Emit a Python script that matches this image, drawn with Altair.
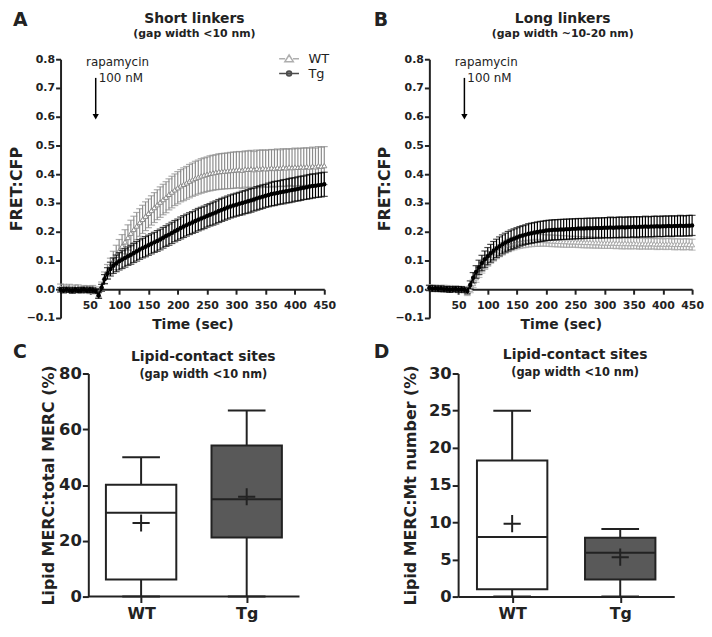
import altair as alt
import pandas as pd

FONT = "DejaVu Sans"
INK = "#222222"
STEP = 5  # seconds between samples

# ---------------- Panel A (short linkers) ----------------
A_WT = [0.006, 0.004, 0.001, 0.005, -0.001, 0.002, 0.003, -0.002, 0.001, 0.000, -0.002, 0.001, -0.004,
        -0.018,
        0.010, 0.040, 0.062, 0.080, 0.100, 0.118, 0.135, 0.150, 0.165, 0.180, 0.195, 0.208, 0.220, 0.232,
        0.243, 0.254, 0.264, 0.274, 0.284, 0.294, 0.303, 0.312, 0.320, 0.330, 0.338, 0.346, 0.353, 0.360,
        0.365, 0.370, 0.376, 0.381, 0.386, 0.390, 0.394, 0.397, 0.400, 0.403, 0.405, 0.407, 0.409, 0.410,
        0.411, 0.412, 0.413, 0.414, 0.415,
        0.416, 0.414, 0.418, 0.417, 0.419, 0.416, 0.420, 0.418, 0.421, 0.419, 0.420, 0.422, 0.420, 0.423,
        0.421, 0.424, 0.422, 0.425, 0.423, 0.425, 0.424, 0.426, 0.425, 0.427, 0.425, 0.428, 0.426, 0.430,
        0.428, 0.430]
A_WT_ERR = [0.012, 0.013, 0.011, 0.012, 0.012, 0.013, 0.012, 0.011, 0.012, 0.012, 0.013, 0.012, 0.012,
            0.012,
            0.015, 0.020, 0.024, 0.028, 0.032, 0.035, 0.038, 0.040, 0.042, 0.044, 0.045, 0.046, 0.047, 0.048,
            0.049, 0.050, 0.050,
            0.051, 0.052, 0.052, 0.053, 0.053, 0.054, 0.054, 0.055, 0.055, 0.056, 0.056, 0.057, 0.057, 0.058,
            0.058, 0.059, 0.059, 0.060, 0.060, 0.060, 0.061, 0.061, 0.061, 0.062, 0.062, 0.062, 0.062, 0.063,
            0.063, 0.063,
            0.063, 0.064, 0.063, 0.064, 0.064, 0.063, 0.064, 0.065, 0.064, 0.064, 0.065, 0.064, 0.065, 0.065,
            0.064, 0.065, 0.065, 0.064, 0.065, 0.066, 0.065, 0.065, 0.066, 0.065, 0.066, 0.066, 0.065, 0.066,
            0.066, 0.066]
A_TG = [-0.002, -0.004, -0.001, -0.003, -0.005, -0.002, -0.004, -0.003, -0.001, -0.004, -0.002, -0.003, -0.006,
        -0.022,
        0.005, 0.035, 0.055, 0.070, 0.082, 0.090, 0.097, 0.103, 0.109, 0.115, 0.120, 0.126, 0.132, 0.138,
        0.143, 0.148, 0.153, 0.158, 0.163, 0.168, 0.173, 0.179, 0.185, 0.190, 0.196, 0.202, 0.207, 0.213,
        0.218, 0.223, 0.228, 0.232, 0.237, 0.242, 0.246, 0.250, 0.255, 0.259, 0.263, 0.267, 0.272, 0.276,
        0.280, 0.284, 0.288, 0.291, 0.294,
        0.297, 0.300, 0.303, 0.306, 0.309, 0.312, 0.316, 0.319, 0.322, 0.325, 0.328, 0.331, 0.333, 0.335,
        0.337, 0.339, 0.341, 0.343, 0.345, 0.347, 0.349, 0.351, 0.353, 0.355, 0.357, 0.359, 0.360, 0.362,
        0.363, 0.365]
A_TG_ERR = [0.008, 0.009, 0.008, 0.008, 0.009, 0.008, 0.008, 0.009, 0.008, 0.008, 0.009, 0.008, 0.008,
            0.010,
            0.012, 0.016, 0.020, 0.024, 0.027, 0.029, 0.030, 0.031, 0.032, 0.032, 0.033, 0.033, 0.034, 0.034,
            0.034, 0.035, 0.035,
            0.035, 0.035, 0.036, 0.036, 0.036, 0.036, 0.037, 0.037, 0.037, 0.037, 0.038, 0.038, 0.038, 0.038,
            0.038, 0.039, 0.039, 0.039, 0.039, 0.039, 0.039, 0.040, 0.040, 0.040, 0.040, 0.040, 0.040, 0.040,
            0.040, 0.040,
            0.040, 0.041, 0.040, 0.041, 0.041, 0.040, 0.041, 0.041, 0.041, 0.040, 0.041, 0.041, 0.042, 0.041,
            0.041, 0.042, 0.041, 0.042, 0.042, 0.041, 0.042, 0.042, 0.041, 0.042, 0.042, 0.042, 0.041, 0.042,
            0.042, 0.042]

# ---------------- Panel B (long linkers) ----------------
B_WT = [0.006, 0.004, 0.005, 0.002, 0.003, 0.004, 0.001, 0.002, 0.000, 0.001, -0.001, 0.000, -0.003,
        -0.012,
        0.000, 0.020, 0.040, 0.058, 0.074, 0.088, 0.100, 0.110, 0.119, 0.127, 0.134, 0.141, 0.147, 0.152,
        0.156, 0.159, 0.162, 0.164, 0.166, 0.167, 0.168, 0.169, 0.170, 0.170, 0.170, 0.170, 0.169, 0.169,
        0.168, 0.168, 0.167, 0.167, 0.166, 0.166, 0.165, 0.165, 0.165, 0.164, 0.164, 0.163, 0.163, 0.163,
        0.162, 0.162, 0.162, 0.161, 0.161,
        0.161, 0.160, 0.161, 0.160, 0.160, 0.159, 0.160, 0.159, 0.159, 0.160, 0.159, 0.158, 0.159, 0.158,
        0.158, 0.159, 0.158, 0.157, 0.158, 0.157, 0.157, 0.158, 0.157, 0.156, 0.157, 0.156, 0.156, 0.157,
        0.156, 0.155]
B_WT_ERR = [0.010, 0.011, 0.010, 0.010, 0.011, 0.010, 0.010, 0.011, 0.010, 0.010, 0.011, 0.010, 0.010,
            0.010,
            0.012, 0.014, 0.016, 0.017, 0.018, 0.019, 0.020, 0.020, 0.021, 0.021, 0.021, 0.022, 0.022, 0.022,
            0.022, 0.022, 0.022,
            0.022, 0.022, 0.022, 0.021, 0.021, 0.021, 0.021, 0.021, 0.020, 0.020, 0.020, 0.020, 0.020, 0.020,
            0.020, 0.020, 0.020, 0.019, 0.019, 0.019, 0.019, 0.019, 0.019, 0.019, 0.019, 0.019, 0.019, 0.019,
            0.019, 0.019,
            0.019, 0.018, 0.019, 0.019, 0.018, 0.019, 0.019, 0.018, 0.019, 0.019, 0.018, 0.019, 0.019, 0.018,
            0.019, 0.019, 0.018, 0.019, 0.019, 0.018, 0.019, 0.019, 0.018, 0.019, 0.019, 0.018, 0.019, 0.019,
            0.018, 0.019]
B_TG = [0.004, 0.002, 0.003, 0.001, 0.002, 0.000, 0.001, -0.001, 0.000, 0.001, -0.001, 0.000, -0.002,
        -0.006,
        0.015, 0.040, 0.060, 0.076, 0.091, 0.104, 0.115, 0.125, 0.134, 0.142, 0.149, 0.156, 0.162, 0.167,
        0.172, 0.176, 0.180, 0.184, 0.187, 0.190, 0.193, 0.195, 0.197, 0.199, 0.201, 0.202, 0.204, 0.205,
        0.206, 0.207, 0.207, 0.208, 0.208, 0.209, 0.209, 0.210, 0.210, 0.211, 0.211, 0.211, 0.212, 0.212,
        0.212, 0.213, 0.213, 0.213, 0.214,
        0.214, 0.215, 0.214, 0.215, 0.215, 0.216, 0.215, 0.216, 0.216, 0.217, 0.216, 0.217, 0.217, 0.218,
        0.217, 0.218, 0.218, 0.219, 0.218, 0.219, 0.219, 0.220, 0.219, 0.220, 0.220, 0.221, 0.220, 0.221,
        0.221, 0.222]
B_TG_ERR = [0.009, 0.010, 0.009, 0.009, 0.010, 0.009, 0.009, 0.010, 0.009, 0.009, 0.010, 0.009, 0.009,
            0.010,
            0.014, 0.018, 0.022, 0.025, 0.027, 0.029, 0.030, 0.031, 0.032, 0.032, 0.033, 0.033, 0.033, 0.034,
            0.034, 0.034, 0.034,
            0.034, 0.034, 0.034, 0.035, 0.035, 0.035, 0.035, 0.035, 0.035, 0.035, 0.035, 0.035, 0.035, 0.035,
            0.035, 0.035, 0.035, 0.035, 0.035, 0.035, 0.035, 0.035, 0.035, 0.035, 0.035, 0.035, 0.035, 0.035,
            0.035, 0.035,
            0.035, 0.036, 0.035, 0.035, 0.036, 0.035, 0.035, 0.036, 0.035, 0.035, 0.036, 0.035, 0.035, 0.036,
            0.035, 0.035, 0.036, 0.035, 0.035, 0.036, 0.035, 0.035, 0.036, 0.035, 0.035, 0.036, 0.035, 0.035,
            0.036, 0.035]

X_TICKS = [50, 100, 150, 200, 250, 300, 350, 400, 450]
Y_TICKS_AB = [-0.1, 0.0, 0.1, 0.2, 0.3, 0.4, 0.5, 0.6, 0.7, 0.8]
RAPA_T = 60  # rapamycin addition (s)

# ---------------- Panels C, D (box plots) ----------------
GROUPS = ["WT", "Tg"]
C_MIN = [0.0, 0.0]
C_Q1 = [6.1, 21.2]
C_MED = [30.1, 34.9]
C_Q3 = [40.1, 54.2]
C_MAX = [50.0, 66.7]
C_MEAN = [26.4, 35.8]
C_TICKS = [0, 20, 40, 60, 80]

D_MIN = [0.0, 0.0]
D_Q1 = [1.0, 2.3]
D_MED = [8.0, 5.9]
D_Q3 = [18.3, 7.9]
D_MAX = [25.0, 9.1]
D_MEAN = [9.8, 5.3]
D_TICKS = [0, 5, 10, 15, 20, 25, 30]

WT_LEG_PATH = "M-2,0H-0.8M0.8,0H2M0,-0.75L0.85,0.6L-0.85,0.6Z"
TG_LEG_PATH = "M-2,0H2M0.5,0A0.5,0.5,0,1,1,-0.5,0A0.5,0.5,0,1,1,0.5,0Z"
PLUS_PATH = "M-1,0H1M0,-1V1"


def text_layer(s, x, y, size, weight="bold", align="left", baseline="alphabetic"):
    return alt.Chart(pd.DataFrame({"s": [s]})).mark_text(
        font=FONT, fontSize=size, fontWeight=weight, color=INK, align=align, baseline=baseline
    ).encode(text="s:N", x=alt.value(x), y=alt.value(y))


def fret_df(wt, wt_err, tg, tg_err):
    rows = []
    for grp, m, e in (("WT", wt, wt_err), ("Tg", tg, tg_err)):
        for i, (v, s) in enumerate(zip(m, e)):
            rows.append({"t": i * STEP, "v": v, "lo": v - s, "hi": v + s, "g": grp})
    return pd.DataFrame(rows)


def fret_panel(letter, title, subtitle, df, wt_color, W, H, letter_x, leg_x):
    xs = alt.Scale(domain=[0, 450], nice=False, zero=False)
    ys = alt.Scale(domain=[-0.1, 0.8], nice=False, zero=False)
    x_axis = alt.Axis(values=X_TICKS, title="Time (sec)", offset=-round(H * 0.1 / 0.9),
                      labelFontSize=11, titleFontSize=14, tickSize=5, labelPadding=5,
                      titlePadding=8, labelFlush=False, labelOverlap=False)
    y_axis = alt.Axis(values=Y_TICKS_AB, format=".1f", title="FRET:CFP", titleFontSize=16,
                      labelFontSize=11, tickSize=5, labelPadding=1, titlePadding=2,
                      labelOverlap=False)
    X = alt.X("t:Q", scale=xs, axis=x_axis)

    def Y(field):
        return alt.Y(field, scale=ys, axis=y_axis, title="FRET:CFP")

    layers = []
    for grp, col in (("WT", wt_color), ("Tg", "#000000")):
        sub = alt.Chart(df).transform_filter(f"datum.g == '{grp}'")
        layers.append(sub.mark_rule(color=col, strokeWidth=1.2).encode(x=X, y=Y("lo:Q"), y2="hi:Q"))
        layers.append(sub.mark_tick(color=col, orient="horizontal", size=7, thickness=1.2)
                      .encode(x=X, y=Y("lo:Q")))
        layers.append(sub.mark_tick(color=col, orient="horizontal", size=7, thickness=1.2)
                      .encode(x=X, y=Y("hi:Q")))
        layers.append(sub.mark_line(color=col, strokeWidth=1.5).encode(x=X, y=Y("v:Q")))
        if grp == "WT":
            layers.append(sub.mark_point(shape="triangle-up", filled=True, fill="white", stroke=col,
                                         strokeWidth=1, size=26, opacity=1)
                          .encode(x=X, y=Y("v:Q")))
        else:
            layers.append(sub.mark_circle(color=col, size=20, opacity=1).encode(x=X, y=Y("v:Q")))

    # rapamycin arrow annotation
    ann = alt.Chart(pd.DataFrame({"t": [RAPA_T], "top": [0.735], "tip": [0.60],
                                  "l1": ["rapamycin"], "l2": ["100 nM"]}))
    layers.append(ann.mark_rule(color="#000", strokeWidth=1.5)
                  .encode(x=X, y=Y("top:Q"), y2="tip:Q"))
    layers.append(ann.mark_point(shape="triangle-down", filled=True, color="#000", size=40, opacity=1)
                  .encode(x=X, y=Y("tip:Q")))
    layers.append(ann.mark_text(font=FONT, fontSize=12, color=INK, align="center", baseline="middle",
                                dx=22, dy=-16).encode(x=X, y=Y("top:Q"), text="l1:N"))
    layers.append(ann.mark_text(font=FONT, fontSize=12, color=INK, align="left", baseline="middle",
                                dx=3, dy=0).encode(x=X, y=Y("top:Q"), text="l2:N"))

    # legend (built by the library from an empty layer with fixed domains)
    leg = alt.Legend(title=None, orient="none", legendX=leg_x, legendY=-7, labelFont=FONT,
                     labelFontSize=13, labelColor=INK, symbolSize=100, symbolStrokeWidth=1.5,
                     labelOffset=13, rowPadding=1)
    layers.append(
        alt.Chart(df).transform_filter("false").mark_point(filled=True, size=100, strokeWidth=1.5)
        .encode(
            shape=alt.Shape("g:N", scale=alt.Scale(domain=GROUPS, range=[WT_LEG_PATH, TG_LEG_PATH]), legend=leg),
            stroke=alt.Stroke("g:N", scale=alt.Scale(domain=GROUPS, range=[wt_color, "#000000"]), legend=leg),
            fill=alt.Fill("g:N", scale=alt.Scale(domain=GROUPS, range=["#ffffff", "#000000"]), legend=leg),
        )
    )

    layers.append(text_layer(letter, letter_x, -34, 19))
    layers.append(text_layer(title, W / 2 + 2, -41, 14, align="center", baseline="middle"))
    layers.append(text_layer(subtitle, W / 2 + 2, -25, 11, align="center", baseline="middle"))
    return alt.layer(*layers).properties(width=W, height=H)


def box_panel(letter, ytitle, mins, q1, med, q3, maxs, means, ymax, yticks, W, H, shift,
              letter_x, title_x, title_y, tpad, fill_tg):
    # the view is widened by `shift` px on the left; the y axis is moved in by the same amount
    df = pd.DataFrame({"g": GROUPS, "mn": mins, "q1": q1, "med": med, "q3": q3,
                       "mx": maxs, "mean": means})
    VW = W + shift
    step = W / 2
    pad = (VW / step - 1) / 2
    align = (shift + step / 2) / (VW - step)
    xs = alt.Scale(type="point", domain=GROUPS, padding=pad, align=align)
    X = alt.X("g:N", scale=xs, axis=alt.Axis(title=None, labelAngle=0, labelFontSize=16,
                                             tickSize=6, labelPadding=3, domain=(shift == 0)))
    ys = alt.Scale(domain=[0, ymax], nice=False, zero=True)
    y_axis = alt.Axis(values=yticks, title=ytitle, titleFontSize=16, labelFontSize=16.5,
                      tickSize=6, labelPadding=1, titlePadding=tpad, offset=-shift)

    def Y(field):
        return alt.Y(field, scale=ys, axis=y_axis, title=ytitle)

    base = alt.Chart(df)
    layers = []
    if shift:
        # x-axis base line, starting at the moved y axis
        layers.append(alt.Chart(pd.DataFrame({"base": [0]})).mark_rule(color=INK, strokeWidth=2)
                      .encode(y=Y("base:Q"), x=alt.value(shift), x2=alt.value(VW)))
    layers += [
        base.mark_rule(color=INK, strokeWidth=2).encode(x=X, y=Y("mn:Q"), y2="q1:Q"),
        base.mark_rule(color=INK, strokeWidth=2).encode(x=X, y=Y("q3:Q"), y2="mx:Q"),
        base.mark_bar(size=71, stroke=INK, strokeWidth=2, opacity=1).encode(
            x=X, y=Y("q1:Q"), y2="q3:Q",
            color=alt.Color("g:N", scale=alt.Scale(domain=GROUPS, range=["#ffffff", fill_tg]), legend=None)),
        base.mark_tick(color=INK, orient="horizontal", size=71, thickness=2, opacity=1)
        .encode(x=X, y=Y("med:Q")),
        base.mark_tick(color=INK, orient="horizontal", size=38, thickness=2, opacity=1)
        .encode(x=X, y=Y("mx:Q")),
        base.mark_tick(color=INK, orient="horizontal", size=38, thickness=2, opacity=1)
        .encode(x=X, y=Y("mn:Q")),
        base.mark_point(shape=PLUS_PATH, filled=False, color=INK, strokeWidth=2, size=300, opacity=1)
        .encode(x=X, y=Y("mean:Q")),
        text_layer(letter, letter_x, -16, 19),
        text_layer("Lipid-contact sites", title_x, title_y, 14, align="center", baseline="middle"),
        text_layer("(gap width <10 nm)", title_x, title_y + 19, 11.5, align="center", baseline="middle"),
    ]
    return alt.layer(*layers).properties(width=VW, height=H)


panel_a = fret_panel("A", "Short linkers", "(gap width <10 nm)", fret_df(A_WT, A_WT_ERR, A_TG, A_TG_ERR),
                     "#8c8c8c", 266, 261, -48, 224)
panel_b = fret_panel("B", "Long linkers", "(gap width ~10-20 nm)", fret_df(B_WT, B_WT_ERR, B_TG, B_TG_ERR),
                     "#a8a8a8", 265, 261, -56, 220)
panel_c = box_panel("C", "Lipid MERC:total MERC (%)", C_MIN, C_Q1, C_MED, C_Q3, C_MAX, C_MEAN, 80, C_TICKS,
                    213, 225, 28, -48, 144, -17, 2, "#595959")
panel_d = box_panel("D", "Lipid MERC:Mt number (%)", D_MIN, D_Q1, D_MED, D_Q3, D_MAX, D_MEAN, 30, D_TICKS,
                    218, 225, 0, -85, 118, -19, 10, "#595959")

top = alt.hconcat(panel_a, panel_b, spacing=38)
bottom = alt.hconcat(panel_c, panel_d, spacing=74)

chart = alt.vconcat(top, bottom, spacing=11).properties(
    padding={"left": 0, "top": 0, "right": 0, "bottom": 0}
).configure_view(stroke=None).configure_axis(
    labelFont=FONT, labelFontWeight="bold", labelColor=INK, titleFont=FONT, titleFontWeight="bold",
    titleColor=INK, domainColor=INK, tickColor=INK, domainWidth=2, tickWidth=2, grid=False
)

chart.save("out.html", embed_options={"renderer": "svg", "actions": False})
